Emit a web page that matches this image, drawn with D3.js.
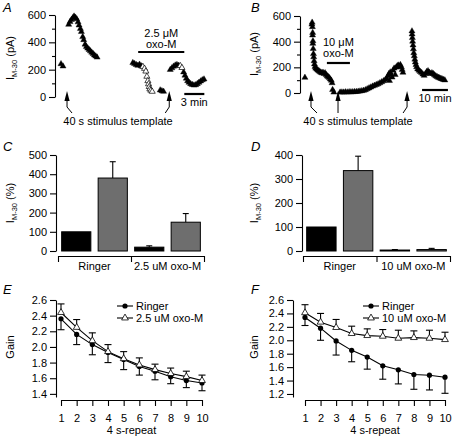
<!DOCTYPE html>
<html><head><meta charset="utf-8">
<script src="https://cdn.jsdelivr.net/npm/d3@7"></script>
<style>
body{margin:0;background:#fff}
svg{display:block;font-family:"Liberation Sans",Arial,Helvetica,sans-serif}
</style>
</head><body>
<script>
// ---------------- DATA ----------------
// Panel A (time in min, I_M-30 in pA)
const aFilledTime=[0.45,0.75,1.6,1.8,2.0,2.2,2.4,2.6,2.8,3.0,3.15,3.35,3.5,3.7,3.85,4.05,4.25,4.45,4.65,4.85,5.05,5.25,5.45,5.65,5.85,
 11.2,11.45,11.7,11.95,12.2,12.45,15.3,15.55,15.8,
 16.8,17.05,17.3,17.55,17.8,18.05,18.8,19.0,19.2,19.4,19.6,19.85,20.1,20.35,20.6,20.85,21.1,21.35,21.6,21.85];
const aFilledCurrent=[242,225,530,550,565,578,590,582,570,548,525,500,478,440,418,385,368,356,346,336,326,316,306,298,290,
 250,244,236,230,238,226,50,44,40,
 200,212,224,232,236,230,182,158,136,118,106,96,90,86,88,96,106,116,124,130];
const aOpenTime=[12.7,12.95,13.15,13.3,13.45,13.55,13.65,13.75,13.9,14.1,18.3,18.55];
const aOpenCurrent=[222,208,188,150,118,95,75,58,48,40,228,214];
const aArrowTime=[1.35,16.65];
const aDrugBar=[12.0,18.9];
const aScaleBar=[18.9,21.9];

// Panel B
const bFilledTime=[1.9,4.7,4.6,4.8,4.9,4.85,5.0,4.95,5.1,5.2,5.3,5.45,5.6,5.8,6.1,6.5,6.9,7.3,7.7,8.1,8.5,8.9,9.3,9.7,10.1,10.5,10.9,11.3,11.7,12.1,12.4,12.6,13.1,
 15.5,16.2,16.9,17.6,18.3,19.0,19.7,20.4,21.1,21.8,22.5,23.2,23.9,24.6,25.3,26.0,26.7,27.4,28.1,28.8,29.5,30.2,30.9,31.6,32.3,33.0,33.5,34.0,34.4,34.6,34.9,35.2,35.6,36.0,36.4,36.8,37.2,37.6,38.0,38.4,38.8,39.2,39.5,39.8,
 43.3,43.35,43.45,43.55,43.7,43.85,44.0,44.2,44.4,44.6,44.85,45.1,45.5,46.0,46.5,47.0,47.5,48.0,48.5,49.0,49.5,50.0,50.5,51.0,51.5,52.0,52.5,53.0,53.5,54.0,54.5,55.0,55.5,56.0];
const bFilledCurrent=[120,550,535,515,470,450,405,385,345,305,280,250,225,205,192,185,178,172,165,160,155,160,150,156,142,132,126,118,108,98,78,25,5,
 5,6,5,7,6,8,7,8,9,10,12,14,16,19,24,31,38,45,52,58,64,70,78,86,94,104,115,132,150,96,162,142,122,176,192,142,200,210,216,206,220,202,182,160,
 482,458,430,402,372,342,312,288,262,240,220,202,186,176,166,158,146,136,150,166,172,160,150,156,150,140,132,126,120,116,112,108,104,100];
const bArrowTime=[4.25,14.7,41.4];
const bDrugBar=[10.4,19.3];
const bScaleBar=[47.2,57.2];

const currentTicks=[0,200,400,600];
const currentMinorTicks=[100,300,500];

// Panels C, D (bars: Ringer pre, Ringer post, drug pre, drug post)
const cGroups=["Ringer","2.5 uM oxo-M"];
const cValues=[100,380,20,150];
const cErrors=[0,85,7,45];
const cTicks=[0,100,200,300,400,500];
const dGroups=["Ringer","10 uM oxo-M"];
const dValues=[100,335,4,6];
const dErrors=[0,60,2,5];
const dTicks=[0,100,200,300,400];
const barFills=["#000000","#6e6e6e","#000000","#6e6e6e"];

// Panels E, F
const repeats=[1,2,3,4,5,6,7,8,9,10];
const eRinger=[2.36,2.16,2.03,1.93,1.84,1.75,1.69,1.62,1.57,1.54];
const eRingerErr=[0.14,0.13,0.13,0.13,0.13,0.11,0.11,0.09,0.09,0.10];
const eOxo=[2.44,2.25,2.08,1.94,1.85,1.77,1.71,1.66,1.62,1.57];
const eOxoErr=[0.11,0.10,0.10,0.09,0.09,0.09,0.07,0.07,0.07,0.07];
const eTicks=[1.4,1.6,1.8,2.0,2.2,2.4,2.6];
const fRinger=[2.34,2.18,1.99,1.85,1.75,1.62,1.56,1.49,1.48,1.45];
const fRingerErr=[0.12,0.18,0.21,0.17,0.18,0.20,0.21,0.22,0.22,0.24];
const fOxo=[2.41,2.27,2.19,2.10,2.07,2.06,2.03,2.04,2.03,2.01];
const fOxoErr=[0.12,0.13,0.12,0.11,0.10,0.10,0.12,0.10,0.12,0.11];
const fTicks=[1.2,1.4,1.6,1.8,2.0,2.2,2.4,2.6];

// ---------------- DRAWING ----------------
const svg=d3.select("body").append("svg").attr("width",453).attr("height",438);
const FS=11;

function panelLabel(t,x,y){
  svg.append("text").attr("x",x).attr("y",y).attr("font-size",13).attr("font-style","italic").text(t);
}
function yLabelI(x,y,unit){
  const t=svg.append("text").attr("transform",`translate(${x},${y}) rotate(-90)`)
    .attr("text-anchor","middle").attr("font-size",FS);
  t.append("tspan").text("I");
  t.append("tspan").attr("font-size",7.5).attr("dy",2.5).text("M-30");
  t.append("tspan").attr("dy",-2.5).text(" ("+unit+")");
}
function styleAxis(g){
  g.selectAll("path,line").attr("stroke","#000").attr("stroke-width",1.1);
  g.selectAll("text").attr("font-size",FS).attr("fill","#000").attr("font-family",null);
  g.attr("font-family",null);
}
function leftAxis(x,scale,ticks,minor,fmt,size){
  const g=svg.append("g").attr("transform",`translate(${x},0)`)
    .call(d3.axisLeft(scale).tickValues(ticks).tickSize(size||6).tickSizeOuter(0).tickPadding(3).tickFormat(fmt||d3.format("d")));
  styleAxis(g);
  if(minor){
    const m=svg.append("g").attr("transform",`translate(${x},0)`)
      .call(d3.axisLeft(scale).tickValues(minor).tickSize(3).tickFormat(""));
    m.select(".domain").remove();
    styleAxis(m);
  }
}
const tri=d3.symbol(d3.symbolTriangle,16);
function triangles(xs,ys,open){
  svg.append("g").selectAll("path").data(xs.map((d,i)=>[d,ys[i]])).join("path")
    .attr("d",tri).attr("transform",d=>`translate(${d[0]},${d[1]})`)
    .attr("fill",open?"#fff":"#000").attr("stroke","#000").attr("stroke-width",open?0.7:0.4);
}
function arrow(x,tipY,leadDx){
  const g=svg.append("g");
  g.append("path").attr("d",`M${x},${tipY}L${x-2.6},${tipY+10}L${x+2.6},${tipY+10}Z`).attr("fill","#000");
  g.append("path").attr("d",`M${x},${tipY+9}L${x},${tipY+16}L${x+leadDx},${tipY+22}`)
    .attr("fill","none").attr("stroke","#000").attr("stroke-width",1);
}
function hbar(x0,x1,y,w){
  svg.append("line").attr("x1",x0).attr("x2",x1).attr("y1",y).attr("y2",y).attr("stroke","#000").attr("stroke-width",w||2.2);
}
function text(x,y,s,anchor,size){
  return svg.append("text").attr("x",x).attr("y",y).attr("text-anchor",anchor||"middle").attr("font-size",size||FS).text(s);
}

// ----- Panel A -----
{
  const x=d3.scaleLinear().domain([0,22]).range([58,205]);
  const y=d3.scaleLinear().domain([0,600]).range([97,15]);
  leftAxis(55,y,currentTicks,currentMinorTicks);
  triangles(aFilledTime.map(x),aFilledCurrent.map(y),false);
  triangles(aOpenTime.map(x),aOpenCurrent.map(y),true);
  arrow(x(aArrowTime[0]),91,5);
  arrow(x(aArrowTime[1]),91,-4);
  text(118,125,"40 s stimulus template");
  hbar(x(aDrugBar[0]),x(aDrugBar[1]),52);
  text((x(aDrugBar[0])+x(aDrugBar[1]))/2,37,"2.5 \u03bcM");
  text((x(aDrugBar[0])+x(aDrugBar[1]))/2,48,"oxo-M");
  hbar(x(aScaleBar[0]),x(aScaleBar[1]),94);
  text((x(aScaleBar[0])+x(aScaleBar[1]))/2,106,"3 min");
  yLabelI(14,58,"pA");
  panelLabel("A",3,12);
}
// ----- Panel B -----
{
  const x=d3.scaleLinear().domain([0,58]).range([300,450]);
  const y=d3.scaleLinear().domain([0,600]).range([93,16]);
  leftAxis(300,y,currentTicks,currentMinorTicks);
  triangles(bFilledTime.map(x),bFilledCurrent.map(y),false);
  arrow(x(bArrowTime[0]),91,6);
  arrow(x(bArrowTime[1]),91,0);
  arrow(x(bArrowTime[2]),91,-4);
  text(358,125,"40 s stimulus template");
  hbar(x(bDrugBar[0]),x(bDrugBar[1]),63);
  text((x(bDrugBar[0])+x(bDrugBar[1]))/2,46,"10 \u03bcM");
  text((x(bDrugBar[0])+x(bDrugBar[1]))/2,57,"oxo-M");
  hbar(x(bScaleBar[0]),x(bScaleBar[1]),90);
  text((x(bScaleBar[0])+x(bScaleBar[1]))/2,102,"10 min");
  yLabelI(258,54,"pA");
  panelLabel("B",251,12);
}
// ----- Bar panels -----
function barPanel(axisX,x0,x1,yMax,ticks,values,errors,groups,labelX,letter,letterX){
  const y=d3.scaleLinear().domain([0,yMax]).range([251,155]);
  const xb=d3.scaleBand().domain(d3.range(values.length)).range([x0,x1]).paddingInner(0.2).paddingOuter(0.1);
  const xg=d3.scaleBand().domain(groups).range([x0,x1]);
  const xt=d3.scaleLinear().domain([0,groups.length]).range([x0,x1]);
  leftAxis(axisX,y,ticks,null);
  values.forEach((v,i)=>{
    if(errors[i]<=0) return;
    const cx=xb(i)+xb.bandwidth()/2;
    svg.append("line").attr("x1",cx).attr("x2",cx).attr("y1",y(v)).attr("y2",y(v+errors[i])).attr("stroke","#000").attr("stroke-width",1.1);
    svg.append("line").attr("x1",cx-3).attr("x2",cx+3).attr("y1",y(v+errors[i])).attr("y2",y(v+errors[i])).attr("stroke","#000").attr("stroke-width",1.1);
  });
  svg.append("g").selectAll("rect").data(values).join("rect")
    .attr("x",(d,i)=>xb(i)).attr("width",xb.bandwidth())
    .attr("y",d=>y(d)).attr("height",d=>y(0)-y(d))
    .attr("fill",(d,i)=>barFills[i]).attr("stroke","#000").attr("stroke-width",1);
  const g=svg.append("g").attr("transform","translate(0,256)")
    .call(d3.axisBottom(xt).tickValues(d3.range(groups.length+1)).tickSize(6).tickSizeOuter(0).tickFormat(""));
  styleAxis(g);
  groups.forEach(gr=>text(xg(gr)+xg.bandwidth()/2,270,gr));
  yLabelI(labelX,203,"%");
  panelLabel(letter,letterX,151);
}
barPanel(56,58,204,500,cTicks,cValues,cErrors,cGroups,14,"C",3);
barPanel(302,303,450,400,dTicks,dValues,dErrors,dGroups,258,"D",251);

// ----- Line panels -----
function linePanel(axisX,x0,x1,yLow,ticks,ringer,ringerErr,oxo,oxoErr,drugLabel,legX,labelX,letter,letterX){
  const x=d3.scaleLinear().domain([1,10]).range([x0,x1]);
  const y=d3.scaleLinear().domain([yLow,2.6]).range([397,300]);
  leftAxis(axisX,y,ticks,null,d3.format(".1f"));
  const gx=svg.append("g").attr("transform","translate(0,400)")
    .call(d3.axisBottom(x).tickValues(repeats).tickSize(6).tickSizeOuter(0).tickPadding(8).tickFormat(d3.format("d")));
  styleAxis(gx);
  const line=d3.line().x((d,i)=>x(repeats[i])).y(d=>y(d));
  function errs(vals,e,dir){
    vals.forEach((v,i)=>{
      const cx=x(repeats[i]),ye=y(v+dir*e[i]);
      svg.append("line").attr("x1",cx).attr("x2",cx).attr("y1",y(v)).attr("y2",ye).attr("stroke","#000").attr("stroke-width",1.1);
      svg.append("line").attr("x1",cx-3.5).attr("x2",cx+3.5).attr("y1",ye).attr("y2",ye).attr("stroke","#000").attr("stroke-width",1.1);
    });
  }
  errs(ringer,ringerErr,-1);
  errs(oxo,oxoErr,1);
  svg.append("path").attr("d",line(ringer)).attr("fill","none").attr("stroke","#000").attr("stroke-width",1.1);
  svg.append("path").attr("d",line(oxo)).attr("fill","none").attr("stroke","#000").attr("stroke-width",1.1);
  const otri=d3.symbol(d3.symbolTriangle,20);
  svg.append("g").selectAll("circle").data(ringer).join("circle")
    .attr("cx",(d,i)=>x(repeats[i])).attr("cy",d=>y(d)).attr("r",2.6).attr("fill","#000");
  svg.append("g").selectAll("path").data(oxo).join("path").attr("d",otri)
    .attr("transform",(d,i)=>`translate(${x(repeats[i])},${y(d)})`)
    .attr("fill","#fff").attr("stroke","#000").attr("stroke-width",0.8);
  const ly=[306,318];
  ly.forEach((yy,k)=>{
    svg.append("line").attr("x1",legX).attr("x2",legX+16).attr("y1",yy).attr("y2",yy).attr("stroke","#000").attr("stroke-width",1.1);
    if(k===0) svg.append("circle").attr("cx",legX+8).attr("cy",yy).attr("r",2.6).attr("fill","#000");
    else svg.append("path").attr("d",otri).attr("transform",`translate(${legX+8},${yy})`).attr("fill","#fff").attr("stroke","#000").attr("stroke-width",0.8);
    text(legX+19,yy+4,k===0?"Ringer":drugLabel,"start");
  });
  text((x0+x1)/2,434,"4 s-repeat");
  svg.append("text").attr("transform",`translate(${labelX},347) rotate(-90)`).attr("text-anchor","middle").attr("font-size",FS).text("Gain");
  panelLabel(letter,letterX,294);
}
linePanel(56,61,202,1.36,eTicks,eRinger,eRingerErr,eOxo,eOxoErr,"2.5 uM oxo-M",117,14,"E",3);
linePanel(293,305,445,1.155,fTicks,fRinger,fRingerErr,fOxo,fOxoErr,"10 uM oxo-M",363,258,"F",251);
</script>
</body></html>
